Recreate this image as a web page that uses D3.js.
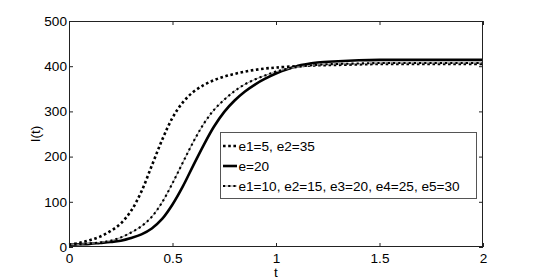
<!DOCTYPE html>
<html><head><meta charset="utf-8">
<script src="https://cdn.jsdelivr.net/npm/d3@7/dist/d3.min.js"></script>
<style>body{margin:0;background:#fff}svg{display:block}text{font-family:"Liberation Sans",Arial,sans-serif}</style>
</head><body>
<script>
const tVals = [0,0.05,0.1,0.15,0.2,0.25,0.3,0.35,0.4,0.45,0.5,0.55,0.6,0.65,0.7,0.75,0.8,0.85,0.9,0.95,1.0,1.1,1.2,1.3,1.4,1.5,1.6,1.7,1.8,1.9,2.0];
const seriesDotted = [5,9,15,23,35,52,80,123,180,237,286,320,343,358,369,377,383,388,392,395,397,400,402,403,404,405,405,405,405,405,405];
const seriesSolid = [5,6,7,9,11,14,20,28,41,62,94,134,180,225,266,299,324,344,360,373,384,400,408,411,413,414,414,414,414,414,414];
const seriesDashDot = [5,6,8,10,14,21,32,46,67,99,141,187,232,272,303,326,345,360,371,380,388,398,403,405,406,407,407,407,407,407,407];
const legendLabels = ["e1=5, e2=35","e=20","e1=10, e2=15, e3=20, e4=25, e5=30"];
const xTicks = [0,0.5,1,1.5,2];
const yTicks = [0,100,200,300,400,500];

const W=534,H=280;
const svg=d3.select("body").append("svg").attr("width",W).attr("height",H);
const L=69,R=483,T=21,B=247;
const x=d3.scaleLinear().domain([0,2]).range([L,R]);
const y=d3.scaleLinear().domain([0,500]).range([B,T]);
const fs="13.6px";
const axisColor="#222";

const styles=[
  {data:seriesDotted, w:2.6, dash:"2.6,2.6", under:false},
  {data:seriesSolid, w:2.6, dash:null, under:false},
  {data:seriesDashDot, w:2.1, dash:"2.2,3", under:true}
];
const line=d3.line().x((d,i)=>x(tVals[i])).y(d=>y(d)).curve(d3.curveCatmullRom.alpha(0.5));
const g=svg.append("g");
styles.forEach(s=>{
  if(s.under) g.append("path").attr("d",line(s.data)).attr("fill","none").attr("stroke","#999").attr("stroke-width",1);
  const p=g.append("path").attr("d",line(s.data)).attr("fill","none").attr("stroke","#000").attr("stroke-width",s.w);
  if(s.dash) p.attr("stroke-dasharray",s.dash);
});

// axes box
const ax=svg.append("g");
ax.append("rect").attr("x",L+0.5).attr("y",T+0.5).attr("width",R-L-1).attr("height",B-T-1).attr("fill","none").attr("stroke",axisColor).attr("stroke-width",1);
const xb=ax.append("g").attr("transform",`translate(0,${B})`).call(d3.axisBottom(x).tickValues(xTicks).tickFormat(d3.format("")).tickSize(-4).tickPadding(6));
const xt=ax.append("g").attr("transform",`translate(0,${T})`).call(d3.axisTop(x).tickValues(xTicks).tickFormat("").tickSize(-4));
const yl=ax.append("g").attr("transform",`translate(${L},0)`).call(d3.axisLeft(y).tickValues(yTicks).tickFormat(d3.format("")).tickSize(-4).tickPadding(2));
const yr=ax.append("g").attr("transform",`translate(${R},0)`).call(d3.axisRight(y).tickValues(yTicks).tickFormat("").tickSize(-4));
[xb,xt,yl,yr].forEach(a=>{a.select(".domain").remove();a.selectAll("line").attr("stroke",axisColor);a.selectAll("text").attr("fill","#000").style("font-size",fs).style("font-family","Liberation Sans, Arial, sans-serif");});

svg.append("text").attr("x",x(1)).attr("y",277).attr("text-anchor","middle").style("font-size",fs).text("t");
svg.append("text").attr("transform",`translate(40,${(T+B)/2}) rotate(-90)`).attr("text-anchor","middle").style("font-size",fs).text("I(t)");

// legend
const lg=svg.append("g");
lg.append("rect").attr("x",220.5).attr("y",132.5).attr("width",256).attr("height",66).attr("fill","#fff").attr("stroke","#555").attr("stroke-width",1);
const rowY=[146,166,186];
styles.forEach((s,i)=>{
  if(s.under) lg.append("line").attr("x1",223).attr("x2",237).attr("y1",rowY[i]).attr("y2",rowY[i]).attr("stroke","#999").attr("stroke-width",1);
  const p=lg.append("line").attr("x1",223).attr("x2",237).attr("y1",rowY[i]).attr("y2",rowY[i]).attr("stroke","#000").attr("stroke-width",s.w);
  if(s.dash) p.attr("stroke-dasharray",s.dash);
  lg.append("text").attr("x",238.5).attr("y",rowY[i]).attr("dy","0.35em").style("font-size",fs).text(legendLabels[i]);
});
</script>
</body></html>
